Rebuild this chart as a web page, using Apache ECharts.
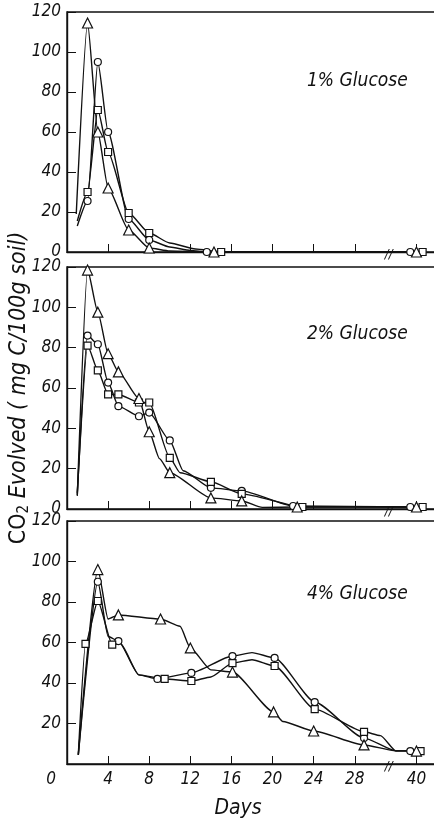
<!DOCTYPE html>
<html>
<head>
<meta charset="utf-8">
<script src="https://cdn.jsdelivr.net/npm/echarts@6/dist/echarts.min.js"></script>
<style>
html,body{margin:0;padding:0;background:#fff;}
#c{width:434px;height:818px;}
</style>
</head>
<body>
<div id="c"></div>
<script>
// ---- data (days, mg C / 100 g soil) ----
const panelTitles = ['1% Glucose', '2% Glucose', '4% Glucose'];
const yTicks = [0, 20, 40, 60, 80, 100, 120];
const xTickDays = [0, 4, 8, 12, 16, 20, 24, 28, 40];

// 1% glucose
const g1Circle = [[2,25.5],[3,95],[4,60],[6,16.5],[8,6],[13.6,0],[39.4,0]];
const g1CircleBend = [[1,13],[10,2.5],[12,0.8]];
const g1Square = [[2,30],[3,71],[4,50],[6,19.5],[8,9.5],[15,0],[40.6,0]];
const g1SquareBend = [[1,15.5],[10,4.5],[12.5,1.5]];
const g1Tri = [[2,114.5],[3,60],[4,32],[6,11],[8,2],[14.3,0],[40,0]];
const g1TriBend = [[0.9,19],[10,0.5]];

// 2% glucose
const g2Circle = [[2,86],[3,81.7],[4,62.7],[5,51],[7,46],[8,47.8],[10,34],[14,10.5],[17,9],[22,1.5],[39.4,1]];
const g2CircleBend = [[1,7],[11.3,19]];
const g2Square = [[2,81],[3,68.7],[4,56.8],[5,56.8],[7,52.8],[8,52.8],[10,25.4],[14,13.5],[17,7.5],[22.9,1],[40.6,1]];
const g2SquareBend = [[1,8],[11,18]];
const g2Tri = [[2,118.5],[3,97.6],[4,77],[5,68],[7,54.8],[8,38.3],[10,18],[14,5.5],[17,4],[22.4,1],[40,1]];
const g2TriBend = [[1,6.5],[9,25],[19,0.8]];

// 4% glucose
const g3Circle = [[3,90],[5,60.7],[8.8,42],[12.1,45],[16.1,53.3],[20.2,52.4],[24.1,30.6],[28.9,12.8],[39.4,6.4]];
const g3CircleBend = [[1.1,4.5],[4,63],[7,44],[18,55],[38,6.5]];
const g3Square = [[1.8,59.3],[3,80.5],[4.4,59],[9.5,42],[12.1,41],[16.1,49.8],[20.2,48.4],[24.1,27.1],[28.9,15.9],[40.4,6.4]];
const g3SquareBend = [[1.1,4.5],[5.2,59.5],[7,44],[14,43],[18,51.5],[30.5,14],[38,6.5]];
const g3Tri = [[3,96],[5,73.6],[9.1,71.6],[12,57.3],[16.1,45.4],[20.1,25.7],[24,16.3],[28.9,9.4],[40,6.4]];
const g3TriBend = [[1.1,4.5],[4,71.6],[11,68],[14,46.5],[21,21],[38,6.5]];

// ---- axis break: days after the break are shifted left by 6 ----
const BREAK_SHIFT = 6;
function pos(d){ return d > 33 ? d - BREAK_SHIFT : d; }
const BREAK_POS = 31.3;

const FONT = '"DejaVu Sans Condensed","DejaVu Sans","Liberation Sans Narrow",sans-serif';
const INK = '#111';

const grids = [
  {left:67, right:-3, top:12, height:240},
  {left:67, right:-3, top:267, height:242},
  {left:67, right:-3, top:521, height:243}
];

const xTickPos = xTickDays.map(pos);
function xLabel(v){
  const i = xTickPos.findIndex(p => Math.abs(p - v) < 1e-6);
  if (i < 0) return '';
  if (xTickDays[i] === 0) return '{z|0}';
  return String(xTickDays[i]);
}

const xAxes = grids.map((g,i)=>({
  type:'value', gridIndex:i, min:0, max:36,
  axisLine:{show:true, lineStyle:{color:INK, width:1.4}},
  axisTick:{show:true, inside:true, length:8, customValues:xTickPos.filter(v=>v>0), lineStyle:{color:INK, width:1}},
  axisLabel:{show:i===2, customValues:xTickPos, formatter:xLabel, margin:7,
    color:INK, fontFamily:FONT, fontStyle:'italic', fontSize:17,
    rich:{z:{fontFamily:FONT, fontStyle:'italic', fontSize:17, color:INK, padding:[0,32,0,0]}}},
  splitLine:{show:false},
  name: i===2 ? 'Days' : '',
  nameLocation:'middle', nameGap:34, nameMoveOverlap:false,
  nameTextStyle:{fontFamily:FONT, fontStyle:'italic', fontSize:21, color:INK, padding:[0,28,0,0]}
}));

const yAxes = grids.map((g,i)=>({
  type:'value', gridIndex:i, min:0, max:120, interval:20,
  axisLine:{show:true, lineStyle:{color:INK, width:1.4}},
  axisTick:{show:true, inside:true, length:9, lineStyle:{color:INK, width:1}},
  axisLabel:{margin:6, color:INK, fontFamily:FONT, fontStyle:'italic', fontSize:17,
    formatter: v => (i===2 && v===0) ? '' : String(v)},
  splitLine:{show:false},
  name: i===1 ? 'CO{s|2} {i|Evolved ( mg C/100g soil)}' : '',
  nameLocation:'middle', nameRotate:90, nameGap:35, nameMoveOverlap:false,
  nameTextStyle:{color:INK, fontFamily:FONT, fontSize:23,
    rich:{
      s:{fontFamily:FONT, fontSize:15, color:INK, padding:[10,0,0,0]},
      i:{fontFamily:FONT, fontSize:23, fontStyle:'italic', color:INK}
    }}
}));

function build(marked, bends){
  const a = marked.map(p=>({value:[pos(p[0]), p[1]]}));
  const b = bends.map(p=>({value:[pos(p[0]), p[1]], symbol:'none'}));
  return a.concat(b).sort((u,v)=>u.value[0]-v.value[0]);
}

function line(gi, marked, bends, symbol, size){
  return {
    type:'line', xAxisIndex:gi, yAxisIndex:gi,
    data: build(marked, bends),
    symbol: symbol, symbolSize: size, showAllSymbol:true,
    smooth:0.2, smoothMonotone:'x',
    lineStyle:{color:INK, width:1.4},
    itemStyle:{color:'#fff', borderColor:INK, borderWidth:1.2},
    emphasis:{disabled:true}, silent:true, z:3
  };
}

const series = [
  line(0, g1Circle, g1CircleBend, 'circle', 7),
  line(0, g1Square, g1SquareBend, 'rect', 7),
  line(0, g1Tri, g1TriBend, 'triangle', 10),
  line(1, g2Circle, g2CircleBend, 'circle', 7),
  line(1, g2Square, g2SquareBend, 'rect', 7),
  line(1, g2Tri, g2TriBend, 'triangle', 10),
  line(2, g3Circle, g3CircleBend, 'circle', 7),
  line(2, g3Square, g3SquareBend, 'rect', 7),
  line(2, g3Tri, g3TriBend, 'triangle', 10)
];

const titleTops = [67, 320, 580];
const titles = panelTitles.map((t,i)=>({
  text:t, left:302, top:titleTops[i],
  textStyle:{fontFamily:FONT, fontStyle:'italic', fontWeight:'normal', fontSize:19, color:INK}
}));

const chart = echarts.init(document.getElementById('c'), null, {renderer:'canvas'});
chart.setOption({
  animation:false,
  backgroundColor:'#fff',
  title:titles,
  grid:grids.map(g=>Object.assign({show:true, borderColor:INK, borderWidth:1.4, backgroundColor:'transparent',
    containLabel:false, outerBoundsMode:'none'}, g)),
  xAxis:xAxes,
  yAxis:yAxes,
  series:series
});

// axis-break marks "//"
const gfx = grids.map((g,i)=>{
  const p = chart.convertToPixel({gridIndex:i}, [BREAK_POS, 0]);
  return {type:'text', x:p[0], y:p[1]+3,
    style:{text:'//', fill:INK, font:'italic 13px ' + FONT, align:'center', verticalAlign:'middle'}, z:10};
});
chart.setOption({graphic:gfx});
</script>
</body>
</html>
